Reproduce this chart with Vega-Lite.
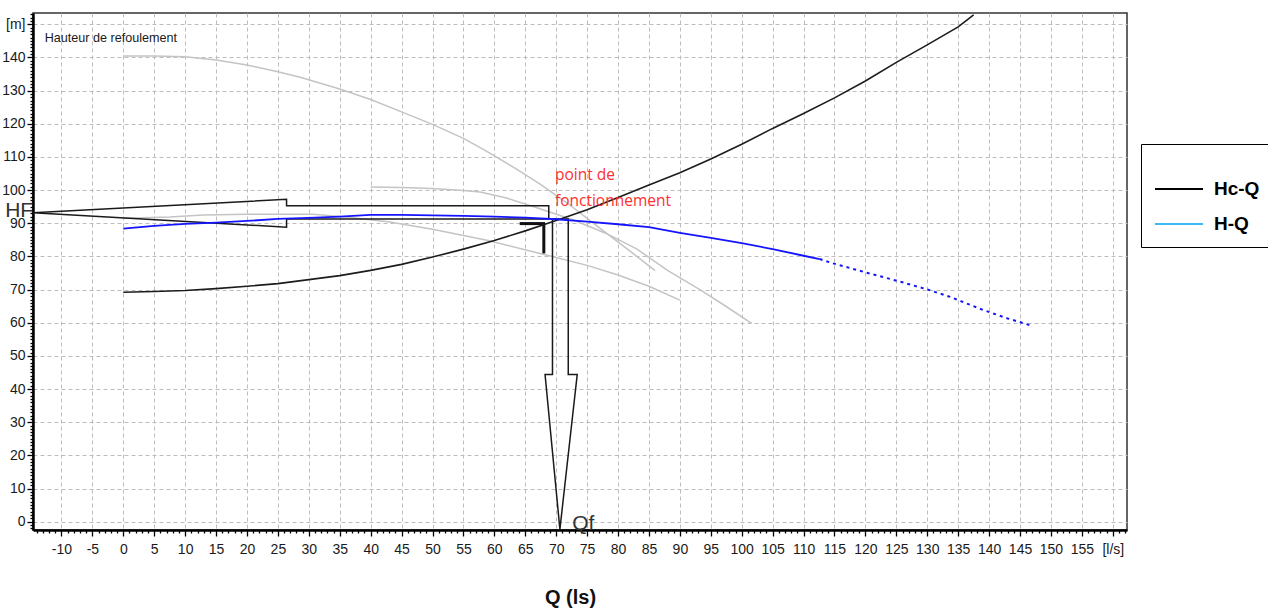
{
  "$schema": "https://vega.github.io/schema/vega-lite/v6.json",
  "width": 1094,
  "height": 517,
  "autosize": {"type": "none"},
  "padding": {"left": 33, "top": 13, "right": 141, "bottom": 79},
  "background": "white",
  "config": {"view": {"stroke": "#333333", "strokeWidth": 1.5}},
  "datasets": {
    "gray": [
      {"s": "G1", "q": 0, "h": 140.4}, {"s": "G1", "q": 5, "h": 140.4}, {"s": "G1", "q": 10, "h": 140.2}, {"s": "G1", "q": 15, "h": 139.2}, {"s": "G1", "q": 20, "h": 137.7}, {"s": "G1", "q": 25, "h": 135.7}, {"s": "G1", "q": 28.6, "h": 134}, {"s": "G1", "q": 35, "h": 130.5}, {"s": "G1", "q": 40, "h": 127.3}, {"s": "G1", "q": 45, "h": 123.6}, {"s": "G1", "q": 50, "h": 119.8}, {"s": "G1", "q": 55, "h": 115.6}, {"s": "G1", "q": 58.5, "h": 112}, {"s": "G1", "q": 63.6, "h": 106.3}, {"s": "G1", "q": 67.4, "h": 101.8}, {"s": "G1", "q": 72, "h": 95.8}, {"s": "G1", "q": 77, "h": 88.6}, {"s": "G1", "q": 82, "h": 81.5}, {"s": "G1", "q": 86, "h": 75.7},
      {"s": "G2", "q": 40, "h": 100.9}, {"s": "G2", "q": 45, "h": 100.8}, {"s": "G2", "q": 50, "h": 100.5}, {"s": "G2", "q": 55, "h": 99.9}, {"s": "G2", "q": 57.7, "h": 99.4}, {"s": "G2", "q": 62, "h": 97.6}, {"s": "G2", "q": 67, "h": 94.6}, {"s": "G2", "q": 72.8, "h": 91}, {"s": "G2", "q": 78, "h": 87}, {"s": "G2", "q": 83, "h": 82.3}, {"s": "G2", "q": 88, "h": 75.8}, {"s": "G2", "q": 93.3, "h": 69.9}, {"s": "G2", "q": 97, "h": 65.5}, {"s": "G2", "q": 101.6, "h": 59.8},
      {"s": "G3", "q": 0, "h": 91.5}, {"s": "G3", "q": 7.5, "h": 91.9}, {"s": "G3", "q": 13, "h": 92.5}, {"s": "G3", "q": 20, "h": 92.7}, {"s": "G3", "q": 30.7, "h": 92.7}, {"s": "G3", "q": 36, "h": 91.9}, {"s": "G3", "q": 43.1, "h": 90.4}, {"s": "G3", "q": 50, "h": 88.2}, {"s": "G3", "q": 58.8, "h": 84.9}, {"s": "G3", "q": 67.4, "h": 80.9}, {"s": "G3", "q": 75, "h": 77.3}, {"s": "G3", "q": 80, "h": 74.4}, {"s": "G3", "q": 85, "h": 71}, {"s": "G3", "q": 90, "h": 66.8}
    ],
    "hcq": [
      {"q": 0, "h": 69.2}, {"q": 5, "h": 69.4}, {"q": 10, "h": 69.7}, {"q": 15, "h": 70.3}, {"q": 20, "h": 71}, {"q": 25, "h": 71.8}, {"q": 30, "h": 73}, {"q": 35, "h": 74.2}, {"q": 40, "h": 75.8}, {"q": 45, "h": 77.6}, {"q": 50, "h": 79.8}, {"q": 55, "h": 82.2}, {"q": 60, "h": 84.8}, {"q": 65, "h": 87.7}, {"q": 70, "h": 90.8}, {"q": 75, "h": 94.1}, {"q": 80, "h": 97.8}, {"q": 85, "h": 101.5}, {"q": 90, "h": 105.2}, {"q": 95, "h": 109.4}, {"q": 100, "h": 113.8}, {"q": 105, "h": 118.6}, {"q": 110, "h": 123.1}, {"q": 115, "h": 127.8}, {"q": 120, "h": 132.9}, {"q": 125, "h": 138.5}, {"q": 130, "h": 143.8}, {"q": 135, "h": 149.2}, {"q": 137.5, "h": 152.8}
    ],
    "hq": [
      {"q": 0, "h": 88.4}, {"q": 5, "h": 89.2}, {"q": 10, "h": 89.8}, {"q": 15, "h": 90.2}, {"q": 20, "h": 90.7}, {"q": 25, "h": 91.3}, {"q": 30, "h": 91.6}, {"q": 35, "h": 92}, {"q": 40, "h": 92.5}, {"q": 45, "h": 92.5}, {"q": 50, "h": 92.4}, {"q": 55, "h": 92.2}, {"q": 60, "h": 92}, {"q": 65, "h": 91.7}, {"q": 70, "h": 91.2}, {"q": 75, "h": 90.5}, {"q": 80, "h": 89.7}, {"q": 85, "h": 88.8}, {"q": 90, "h": 87.1}, {"q": 95, "h": 85.6}, {"q": 100, "h": 84}, {"q": 105, "h": 82.2}, {"q": 110, "h": 80.2}, {"q": 112.6, "h": 79.2}
    ],
    "hqdot": [
      {"q": 112.6, "h": 79.2}, {"q": 114.8, "h": 77.9}, {"q": 119.6, "h": 75.4}, {"q": 125.6, "h": 72.4}, {"q": 129.9, "h": 70.1}, {"q": 133.7, "h": 67.8}, {"q": 139.1, "h": 63.8}, {"q": 143, "h": 61.3}, {"q": 147.1, "h": 59}
    ],
    "arrows": [
      {"shape": "left", "i": 1, "q": -14.6, "h": 93.2}, {"shape": "left", "i": 2, "q": 26.4, "h": 97.2}, {"shape": "left", "i": 3, "q": 26.4, "h": 95.3}, {"shape": "left", "i": 4, "q": 68.8, "h": 95.3}, {"shape": "left", "i": 5, "q": 68.8, "h": 91.3}, {"shape": "left", "i": 6, "q": 26.4, "h": 91.3}, {"shape": "left", "i": 7, "q": 26.4, "h": 88.8}, {"shape": "left", "i": 8, "q": -14.6, "h": 93.2},
      {"shape": "down", "i": 1, "q": 69.4, "h": 91.3}, {"shape": "down", "i": 2, "q": 69.4, "h": 44.4}, {"shape": "down", "i": 3, "q": 68.2, "h": 44.4}, {"shape": "down", "i": 4, "q": 70.6, "h": -2.3}, {"shape": "down", "i": 5, "q": 73.4, "h": 44.4}, {"shape": "down", "i": 6, "q": 71.95, "h": 44.4}, {"shape": "down", "i": 7, "q": 71.95, "h": 91.3}, {"shape": "down", "i": 8, "q": 69.4, "h": 91.3}
    ],
    "marker": [
      {"shape": "m1", "i": 1, "q": 64.1, "h": 89.9}, {"shape": "m1", "i": 2, "q": 68.2, "h": 89.9},
      {"shape": "m2", "i": 1, "q": 68.0, "h": 89.9}, {"shape": "m2", "i": 2, "q": 68.0, "h": 80.9}
    ],
    "red": [
      {"t": "point de", "q": 69.8, "h": 104.5},
      {"t": "fonctionnement", "q": 69.8, "h": 96.7}
    ],
    "big": [
      {"t": "HF", "q": -19.1, "h": 93.7},
      {"t": "Qf", "q": 72.6, "h": -0.6}
    ],
    "note": [
      {"t": "Hauteur de refoulement", "q": -12.7, "h": 145.8}
    ]
  },
  "encoding": {
    "x": {
      "field": "q",
      "type": "quantitative",
      "scale": {"domain": [-14.6, 162.3], "nice": false, "zero": false},
      "axis": {
        "values": [-14,-13,-12,-11,-10,-9,-8,-7,-6,-5,-4,-3,-2,-1,0,1,2,3,4,5,6,7,8,9,10,11,12,13,14,15,16,17,18,19,20,21,22,23,24,25,26,27,28,29,30,31,32,33,34,35,36,37,38,39,40,41,42,43,44,45,46,47,48,49,50,51,52,53,54,55,56,57,58,59,60,61,62,63,64,65,66,67,68,69,70,71,72,73,74,75,76,77,78,79,80,81,82,83,84,85,86,87,88,89,90,91,92,93,94,95,96,97,98,99,100,101,102,103,104,105,106,107,108,109,110,111,112,113,114,115,116,117,118,119,120,121,122,123,124,125,126,127,128,129,130,131,132,133,134,135,136,137,138,139,140,141,142,143,144,145,146,147,148,149,150,151,152,153,154,155,156,157,158,159,160,161,162],
        "labelExpr": "datum.value === 160 ? '[l/s]' : (datum.value % 5 === 0 ? '' + datum.value : '')",
        "labelOverlap": false,
        "labelFlush": false,
        "labelBound": false,
        "labelFont": "Liberation Sans Narrow, Liberation Sans, sans-serif",
        "labelFontSize": 14,
        "labelColor": "#1a1a1a",
        "labelPadding": 6,
        "tickSize": {"condition": {"test": "datum.value % 5 === 0", "value": 6}, "value": 3},
        "tickColor": "#000000",
        "tickWidth": 1.3,
        "domainColor": "#000000",
        "domainWidth": 2.5,
        "grid": true,
        "gridColor": "#bdbdbd",
        "gridDash": [4, 3],
        "gridWidth": 1,
        "gridOpacity": {"condition": {"test": "datum.value % 5 === 0", "value": 1}, "value": 0},
        "title": "Q (ls)",
        "titleFont": "Liberation Sans, sans-serif",
        "titleFontSize": 20,
        "titleFontWeight": "bold",
        "titleColor": "#111111",
        "titleX": 537,
        "titleY": 67,
        "titleAlign": "center",
        "titleBaseline": "middle"
      }
    },
    "y": {
      "field": "h",
      "type": "quantitative",
      "scale": {"domain": [-2.5, 153.4], "nice": false, "zero": false},
      "axis": {
        "values": [-2,-1,0,1,2,3,4,5,6,7,8,9,10,11,12,13,14,15,16,17,18,19,20,21,22,23,24,25,26,27,28,29,30,31,32,33,34,35,36,37,38,39,40,41,42,43,44,45,46,47,48,49,50,51,52,53,54,55,56,57,58,59,60,61,62,63,64,65,66,67,68,69,70,71,72,73,74,75,76,77,78,79,80,81,82,83,84,85,86,87,88,89,90,91,92,93,94,95,96,97,98,99,100,101,102,103,104,105,106,107,108,109,110,111,112,113,114,115,116,117,118,119,120,121,122,123,124,125,126,127,128,129,130,131,132,133,134,135,136,137,138,139,140,141,142,143,144,145,146,147,148,149,150,151,152,153],
        "labelExpr": "datum.value === 150 ? '[m]' : (datum.value % 10 === 0 ? '' + datum.value : '')",
        "labelOverlap": false,
        "labelFlush": false,
        "labelBound": false,
        "labelFont": "Liberation Sans Narrow, Liberation Sans, sans-serif",
        "labelFontSize": 14,
        "labelColor": "#1a1a1a",
        "labelPadding": 2,
        "tickSize": {"condition": {"test": "datum.value % 10 === 0", "value": 6}, "value": 3},
        "tickColor": "#000000",
        "tickWidth": 1.3,
        "domainColor": "#000000",
        "domainWidth": 2.5,
        "grid": true,
        "gridColor": "#bdbdbd",
        "gridDash": [4, 3],
        "gridWidth": 1,
        "gridOpacity": {"condition": {"test": "datum.value % 10 === 0", "value": 1}, "value": 0},
        "title": null
      }
    }
  },
  "layer": [
    {
      "data": {"name": "gray"},
      "mark": {"type": "line", "color": "#c4c4c4", "strokeWidth": 1.5},
      "encoding": {"detail": {"field": "s", "type": "nominal"}}
    },
    {
      "data": {"name": "arrows"},
      "mark": {"type": "line", "color": "#1a1a1a", "strokeWidth": 1.5},
      "encoding": {"detail": {"field": "shape", "type": "nominal"}, "order": {"field": "i", "type": "quantitative"}}
    },
    {
      "data": {"name": "marker"},
      "mark": {"type": "line", "color": "#111111", "strokeWidth": 3},
      "encoding": {"detail": {"field": "shape", "type": "nominal"}, "order": {"field": "i", "type": "quantitative"}}
    },
    {
      "data": {"name": "hcq"},
      "mark": {"type": "line", "color": "#1c1c1c", "strokeWidth": 1.6},
      "encoding": {}
    },
    {
      "data": {"name": "hq"},
      "mark": {"type": "line", "color": "#1414ff", "strokeWidth": 1.8},
      "encoding": {}
    },
    {
      "data": {"name": "hqdot"},
      "mark": {"type": "line", "color": "#1414ff", "strokeWidth": 2, "strokeDash": [3, 4]},
      "encoding": {}
    },
    {
      "data": {"name": "red"},
      "mark": {"type": "text", "align": "left", "baseline": "middle", "font": "Open Sans, sans-serif", "fontSize": 15.5, "color": "#ff3030"},
      "encoding": {"text": {"field": "t", "type": "nominal"}}
    },
    {
      "data": {"name": "big"},
      "mark": {"type": "text", "align": "left", "baseline": "middle", "font": "Liberation Sans, sans-serif", "fontSize": 21, "color": "#333333"},
      "encoding": {"text": {"field": "t", "type": "nominal"}}
    },
    {
      "data": {"name": "note"},
      "mark": {"type": "text", "align": "left", "baseline": "middle", "font": "Liberation Sans Narrow, Liberation Sans, sans-serif", "fontSize": 12.6, "color": "#1a1a1a"},
      "encoding": {"text": {"field": "t", "type": "nominal"}}
    },
    {
      "data": {"values": [{"sname": "Hc-Q"}, {"sname": "H-Q"}]},
      "mark": {"type": "line", "strokeWidth": 2},
      "encoding": {
        "color": {
          "field": "sname",
          "type": "nominal",
          "scale": {"domain": ["Hc-Q", "H-Q"], "range": ["#000000", "#3cb9f2"]},
          "legend": {
            "orient": "none",
            "legendX": 1108,
            "legendY": 131,
            "direction": "vertical",
            "title": " ",
            "titleFontSize": 4,
            "titlePadding": 3,
            "padding": 13,
            "strokeColor": "#000000",
            "fillColor": "#ffffff",
            "symbolType": "stroke",
            "symbolSize": 2304,
            "symbolStrokeWidth": 2,
            "symbolOpacity": 1,
            "labelFont": "Liberation Sans Narrow, Liberation Sans, sans-serif",
            "labelFontSize": 19,
            "labelFontWeight": "bold",
            "labelColor": "#000000",
            "labelOffset": 10,
            "rowPadding": -24
          }
        }
      }
    }
  ]
}
